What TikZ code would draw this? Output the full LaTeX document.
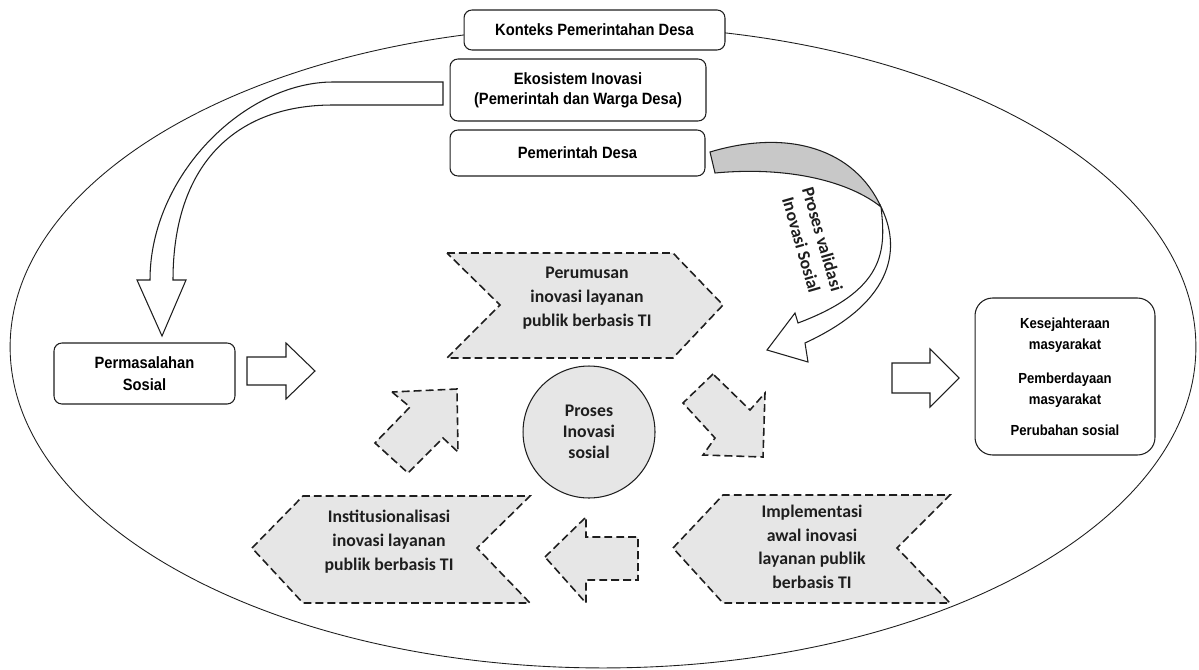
\documentclass[tikz,border=0pt]{standalone}
\usepackage{fontspec}
\setmainfont{Carlito}
\newfontfamily\narrowfont{Liberation Sans}[FakeStretch=0.9]
\usetikzlibrary{calc}

\definecolor{stagegray}{HTML}{E6E6E6}
\definecolor{bandgray}{HTML}{C8C8C8}
\definecolor{inkgray}{HTML}{1E1E1E}

\tikzset{
  ctxbox/.style={draw=inkgray, line width=0.6pt, rounded corners=4.5pt, fill=white,
    font=\narrowfont\bfseries\fontsize{9.3}{11.3}\selectfont, align=center, inner sep=0pt},
  stage/.style={draw=inkgray, dash pattern=on 4.5pt off 2.3pt, line width=0.9pt, fill=stagegray},
  stagetext/.style={font=\bfseries\fontsize{10.1}{13.6}\selectfont, align=center, text=inkgray},
  blockarrow/.style={draw=inkgray, line width=0.6pt, fill=white},
}

\begin{document}
\begin{tikzpicture}[x=0.02cm, y=-0.02cm]
    \useasboundingbox (0,0) rectangle (1199,669);

    % Draw the context ellipse
    \draw[inkgray, line width=0.5pt] (603,347) ellipse [x radius=11.86cm, y radius=6.42cm];

    % Define the boxes at the top
    \node[ctxbox, minimum width=5.22cm, minimum height=0.8cm] (konteks) at (594.5,30) {Konteks Pemerintahan Desa};
    \node[ctxbox, minimum width=5.12cm, minimum height=1.24cm] (ekosistem) at (578,90) {Ekosistem Inovasi\\(Pemerintah dan Warga Desa)};
    \node[ctxbox, minimum width=5.1cm, minimum height=0.92cm] (pemdes) at (577.5,153) {Pemerintah Desa};

    % Input and output boxes
    \node[ctxbox, font=\narrowfont\bfseries\fontsize{9.3}{12.5}\selectfont, minimum width=3.62cm, minimum height=1.22cm] (masalah) at (144.5,373.5) {Permasalahan\\Sosial};
    \node[ctxbox, rounded corners=10pt, font=\narrowfont\bfseries\fontsize{8.3}{12.3}\selectfont, minimum width=3.6cm, minimum height=3.14cm] (hasil) at (1065,376.5)
        {Kesejahteraan\\masyarakat\\[6.8pt]Pemberdayaan\\masyarakat\\[5pt]Perubahan sosial};

    % Curved arrow from the ecosystem down to the problem
    \draw[blockarrow] (443,82) -- (333,82) .. controls (245,82) and (150,175) .. (150,280)
        -- (137,280) -- (162,336) -- (186,280) -- (173,280)
        .. controls (173,165) and (235,105) .. (333,105) -- (443,105) -- cycle;

    % Curved validation arrow from the village government
    \draw[blockarrow, fill=bandgray] (710,152) .. controls (790,128) and (855,150) .. (881,207)
        .. controls (850,182) and (790,166) .. (715,173) -- cycle;
    \draw[blockarrow] (881,207) .. controls (900,245) and (898,300) .. (805,343)
        -- (808,362) -- (767,350) -- (795,313) -- (798,323)
        .. controls (886,290) and (886,250) .. (881,207) -- cycle;
    \node[stagetext, font=\bfseries\fontsize{10.1}{12.5}\selectfont, rotate=-74] (validasi) at (812,242) {Proses validasi\\Inovasi Sosial};

    % Straight arrows into and out of the process
    \draw[blockarrow] (247,357) -- (286,357) -- (286,343) -- (315,371) -- (286,399) -- (286,385) -- (247,385) -- cycle;
    \draw[blockarrow] (892,363) -- (930,363) -- (930,349) -- (959,378) -- (930,407) -- (930,393) -- (892,393) -- cycle;

    % Stages of the process
    \draw[stage] (447,253) -- (673,253) -- (723,305) -- (673,358) -- (447,358) -- (500,305) -- cycle;
    \node[stagetext] (perumusan) at (587,298) {Perumusan\\inovasi layanan\\publik berbasis TI};

    \draw[stage] (252,548) -- (303,496) -- (530,496) -- (477,548) -- (530,603) -- (303,603) -- cycle;
    \node[stagetext] (institusi) at (389,542) {Institusionalisasi\\inovasi layanan\\publik berbasis TI};

    \draw[stage] (673,548) -- (723,495) -- (950,495) -- (897,548) -- (950,603) -- (723,603) -- cycle;
    \node[stagetext, font=\bfseries\fontsize{10.1}{13.4}\selectfont] (implementasi) at (812,547) {Implementasi\\awal inovasi\\layanan publik\\berbasis TI};

    % Small arrows round the circle
    \draw[stage] (392,392) -- (410,407) -- (375,443) -- (408,473) -- (443,438) -- (458,452) -- (457,389) -- cycle;
    \draw[stage] (713,374) -- (683,403) -- (715,438) -- (703,455) -- (763,457) -- (765,393) -- (750,410) -- cycle;
    \draw[stage] (545,557) -- (586,517) -- (586,537) -- (638,537) -- (638,580) -- (586,580) -- (586,603) -- cycle;

    % Central process circle
    \node[circle, draw=inkgray, line width=0.6pt, fill=stagegray, minimum size=2.64cm, inner sep=0pt,
        stagetext, font=\bfseries\fontsize{10.1}{12}\selectfont] (proses) at (589,432) {Proses\\Inovasi\\sosial};

\end{tikzpicture}
\end{document}
